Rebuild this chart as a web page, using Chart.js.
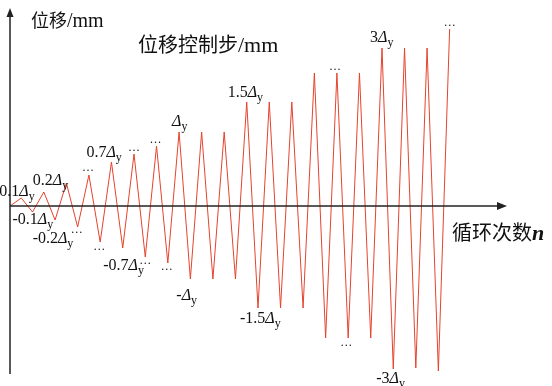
<!DOCTYPE html>
<html>
<head>
<meta charset="utf-8">
<script src="https://cdn.jsdelivr.net/npm/chart.js@4.4.1/dist/chart.umd.min.js"></script>
<style>
  html, body { margin: 0; padding: 0; background: #fff; }
  #wrap { width: 552px; height: 386px; }
</style>
</head>
<body>
<div id="wrap"><canvas id="chart"></canvas></div>
<script>
// peak / valley displacement of each cycle (arbitrary units)
var peaks = [8, 14, 23, 31, 44, 52, 60, 74, 74, 74, 104, 104, 104, 133, 133, 133, 158, 158, 158, 177];
var valleys = [-6, -14, -21, -36, -42, -51, -57, -73, -73, -73, -102, -102, -102, -132, -132, -132, -163, -162, -165];

// control step labels: point index, prefix before Δy, offset from the point
var stepLabels = [
    { i: 1, pre: '0.1', dx: -22, dy: -7 },
    { i: 3, pre: '0.2', dx: -11, dy: -12 },
    { i: 2, pre: '-0.1', dx: -20, dy: 7 },
    { i: 6, pre: '-0.2', dx: -45, dy: 11 },
    { i: 9, pre: '0.7', dx: -25, dy: -10 },
    { i: 12, pre: '-0.7', dx: -42, dy: 8 },
    { i: 15, pre: '', dx: -7, dy: -11 },
    { i: 16, pre: '-', dx: -14, dy: 16 },
    { i: 21, pre: '1.5', dx: -19, dy: -10 },
    { i: 22, pre: '-1.5', dx: -18, dy: 10 },
    { i: 33, pre: '3', dx: -12, dy: -11 },
    { i: 34, pre: '-3', dx: -17, dy: 9 }
];
// "..." marks: point index and offset of their centre
var dotLabels = [
    { i: 6, dx: -1, dy: 4 },
    { i: 7, dx: -1, dy: -6 },
    { i: 8, dx: -1, dy: 6 },
    { i: 11, dx: 0, dy: -5 },
    { i: 12, dx: 0, dy: 5 },
    { i: 13, dx: -1, dy: -5 },
    { i: 14, dx: -1, dy: 5 },
    { i: 29, dx: -2, dy: -5 },
    { i: 30, dx: -2, dy: 6 },
    { i: 39, dx: 0, dy: -5 }
];

// build the zigzag: start at 0, then peak, valley, peak ...
var pts = [{ x: 0, y: 0 }];
for (var k = 0; k < peaks.length; k++) {
    pts.push({ x: pts.length, y: peaks[k] });
    if (k < valleys.length) pts.push({ x: pts.length, y: valleys[k] });
}

var serif = '"Liberation Serif", "Times New Roman", serif';
var cjk = '"Noto Sans CJK SC", sans-serif';

function drawParts(ctx, parts, x, y) {
    // parts: [text, font, yShift]
    parts.forEach(function (p) {
        ctx.font = p[1];
        ctx.fillText(p[0], x, y + (p[2] || 0));
        x += ctx.measureText(p[0]).width;
    });
}

var decor = {
    id: 'decor',
    afterDatasetsDraw: function (chart) {
        var ctx = chart.ctx;
        var xs = chart.scales.x, ys = chart.scales.y;
        var x0 = xs.getPixelForValue(0), y0 = ys.getPixelForValue(0);
        var top = chart.chartArea.top, bottom = chart.chartArea.bottom, right = chart.chartArea.right;
        ctx.save();
        ctx.strokeStyle = '#222';
        ctx.fillStyle = '#222';
        ctx.lineWidth = 1.5;
        // y axis
        ctx.beginPath();
        ctx.moveTo(x0, bottom);
        ctx.lineTo(x0, top + 6);
        ctx.stroke();
        ctx.beginPath();
        ctx.moveTo(x0, top - 2);
        ctx.lineTo(x0 - 3.5, top + 7);
        ctx.lineTo(x0 + 3.5, top + 7);
        ctx.closePath();
        ctx.fill();
        // x axis
        ctx.beginPath();
        ctx.moveTo(x0, y0);
        ctx.lineTo(right - 6, y0);
        ctx.stroke();
        ctx.beginPath();
        ctx.moveTo(right + 1, y0);
        ctx.lineTo(right - 9, y0 - 4);
        ctx.lineTo(right - 9, y0 + 4);
        ctx.closePath();
        ctx.fill();

        ctx.fillStyle = '#111';
        ctx.textBaseline = 'alphabetic';
        ctx.textAlign = 'left';
        // titles
        drawParts(ctx, [['位移', '18px ' + cjk, 0], ['/mm', '20px ' + serif, 0]], 31, 27);
        drawParts(ctx, [['位移控制步', '20px ' + cjk, 0], ['/mm', '22px ' + serif, 0]], 138, 52);
        drawParts(ctx, [['循环次数', '20px ' + cjk, 0], ['n', 'italic bold 22px ' + serif, 0]], 452, 240);

        // step labels
        stepLabels.forEach(function (l) {
            var px = xs.getPixelForValue(pts[l.i].x) + l.dx;
            var py = ys.getPixelForValue(pts[l.i].y) + l.dy + 5;
            drawParts(ctx, [[l.pre, '16px ' + serif, 0], ['Δ', 'italic 16px ' + serif, 0], ['y', '12px ' + serif, 4]], px, py);
        });
        ctx.textAlign = 'center';
        ctx.font = '12px ' + serif;
        dotLabels.forEach(function (d) {
            var px = xs.getPixelForValue(pts[d.i].x) + d.dx;
            var py = ys.getPixelForValue(pts[d.i].y) + d.dy;
            ctx.fillText('…', px, py + 2);
        });
        ctx.restore();
    }
};

new Chart(document.getElementById('chart'), {
    type: 'line',
    data: {
        datasets: [{
            data: pts,
            borderColor: '#e5432c',
            borderWidth: 1,
            pointRadius: 0,
            tension: 0,
            fill: false
        }]
    },
    options: {
        responsive: true,
        maintainAspectRatio: false,
        animation: false,
        layout: { padding: { left: 10, right: 46, top: 10, bottom: 12 } },
        plugins: { legend: { display: false }, tooltip: { enabled: false } },
        scales: {
            x: { type: 'linear', min: 0, max: 44, display: false },
            y: { type: 'linear', min: -168, max: 196, display: false }
        }
    },
    plugins: [decor]
});
</script>
</body>
</html>
